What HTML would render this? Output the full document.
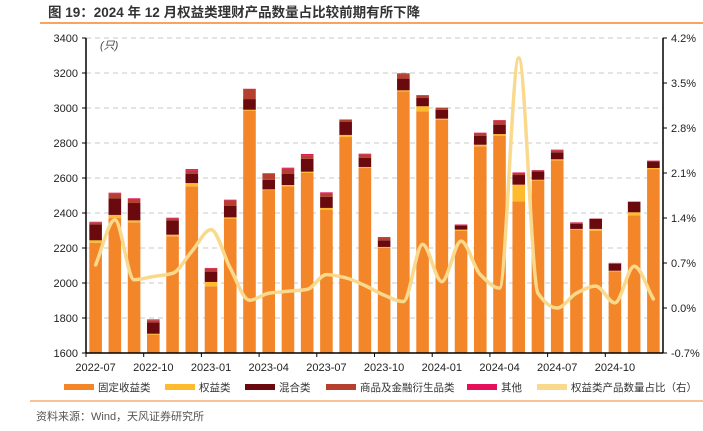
<!DOCTYPE html>
<html><head><meta charset="utf-8"><style>
body{margin:0;background:#fff;width:703px;height:426px;overflow:hidden;font-family:"Liberation Sans","Noto Sans CJK SC",sans-serif}
svg text{font-family:"Liberation Sans","Noto Sans CJK SC",sans-serif}
</style></head><body>
<svg id="c" width="703" height="426" xmlns="http://www.w3.org/2000/svg">
<text x="48" y="17" font-size="13.5" fill="#333" font-weight="bold">图 19：2024 年 12 月权益类理财产品数量占比较前期有所下降</text>
<line x1="40" y1="23" x2="703" y2="23" stroke="#f4862a" stroke-width="1.5"/>
<line x1="30" y1="401" x2="703" y2="401" stroke="#f4862a" stroke-width="1"/>
<text x="36" y="420" font-size="11" fill="#555">资料来源：Wind，天风证券研究所</text>
<text x="100" y="49" font-size="11" fill="#444" font-style="italic">(只)</text>
<g id="grid"></g><g id="bars"></g><g id="line"></g><g id="axes"></g><g id="legend"></g>
</svg>
<script>
const categories=["2022-07","2022-08","2022-09","2022-10","2022-11","2022-12","2023-01","2023-02","2023-03","2023-04","2023-05","2023-06","2023-07","2023-08","2023-09","2023-10","2023-11","2023-12","2024-01","2024-02","2024-03","2024-04","2024-05","2024-06","2024-07","2024-08","2024-09","2024-10","2024-11","2024-12"];
const fixedIncome=[2229,2371,2347,1705,2267,2552,1981,2368,2985,2531,2552,2629,2419,2834,2657,2200,3095,2981,2933,2299,2781,2842,2467,2587,2701,2305,2299,2067,2387,2651];
const equity=[15,18,11,5,9,19,25,7,5,4,8,7,10,12,6,6,6,29,6,6,9,9,95,3,6,4,10,3,17,6];
const mixed=[91,95,99,65,82,52,59,67,61,55,63,73,64,74,53,38,67,47,51,23,52,54,55,48,40,30,57,40,59,38];
const commodity=[12,26,23,12,10,19,17,30,58,33,30,22,21,13,19,15,26,13,10,5,15,23,12,5,11,6,2,4,2,4];
const other=[3,6,4,5,5,9,4,4,1,4,6,6,4,2,4,4,4,4,2,2,2,3,3,2,4,2,1,1,1,1];
const ratio=[0.67,1.37,0.44,0.49,0.54,0.88,1.22,0.62,0.12,0.23,0.26,0.29,0.52,0.47,0.35,0.2,0.10,0.99,0.41,1.04,0.52,0.31,3.89,0.23,0.0,0.23,0.34,0.08,0.65,0.14];
const leftTicks=[1600,1800,2000,2200,2400,2600,2800,3000,3200,3400];
const rightTicks=[-0.7,0,0.7,1.4,2.1,2.8,3.5,4.2];
const xLabelIdx=[0,3,6,9,12,15,18,21,24,27];
const series=[fixedIncome,equity,mixed,commodity,other];
const names=["固定收益类","权益类","混合类","商品及金融衍生品类","其他"];
const colors=["#f4862a","#fdbb2d","#6b0a0e","#b5402f","#e5105a"];
const NS="http://www.w3.org/2000/svg";
const X0=86,X1=663,Y0=353,Y1=38;
const step=(X1-X0)/categories.length;
const xc=i=>X0+step*(i+0.5);
const yl=v=>Y0-(Math.max(v,1600)-1600)/1800*(Y0-Y1);
const yr=v=>Y0-(v+0.7)/4.9*(Y0-Y1);
function mk(p,t,a){const e=document.createElementNS(NS,t);for(const k in a)e.setAttribute(k,a[k]);document.getElementById(p).appendChild(e);return e;}
leftTicks.forEach((t,i)=>{
  if(i>0){const g=mk("grid","line",{x1:X0,x2:X1,y1:yl(t),y2:yl(t),stroke:"#c8c8c8","stroke-dasharray":"5,4"});
  
  }
  const tx=mk("axes","text",{x:78,y:yl(t)+4,"font-size":11,"text-anchor":"end",fill:"#222"});tx.textContent=t;
  
  
});
rightTicks.forEach(t=>{
  const tx=mk("axes","text",{x:671,y:yr(t)+4,"font-size":11,fill:"#222"});tx.textContent=t.toFixed(1)+"%";
  
  
  mk("axes","line",{x1:X1,x2:X1+4,y1:yr(t),y2:yr(t),stroke:"#000"});
});
categories.forEach((c,i)=>{
  let base=0;
  series.forEach((s,k)=>{
    const top=base+s[i];
    const r=mk("bars","rect",{x:xc(i)-6.3,y:yl(top),width:12.6,height:Math.max(0,yl(base)-yl(top)),fill:colors[k]});
    
    
    base=top;
  });
});
// monotone cubic interpolation
const pts=ratio.map((v,i)=>[xc(i),yr(v)]);
const n=pts.length,h=step;
const dl=[];for(let i=0;i<n-1;i++)dl.push((pts[i+1][1]-pts[i][1])/h);
const m=[];for(let i=0;i<n;i++){
  if(i===0)m.push(dl[0]);else if(i===n-1)m.push(dl[n-2]);
  else m.push(dl[i-1]*dl[i]<=0?0:2/(1/dl[i-1]+1/dl[i]));
}
let d="M"+pts[0][0]+","+pts[0][1];
for(let i=0;i<n-1;i++){
  const p1=pts[i],p2=pts[i+1];
  d+=" C"+(p1[0]+h/3)+","+(p1[1]+m[i]*h/3)+" "+(p2[0]-h/3)+","+(p2[1]-m[i+1]*h/3)+" "+p2[0]+","+p2[1];
}
const ln=mk("line","path",{d:d,fill:"none",stroke:"#f9d98c","stroke-width":3.5,"stroke-linecap":"round","stroke-linejoin":"round"});


mk("axes","line",{x1:X0,x2:X0,y1:Y1,y2:Y0,stroke:"#000","stroke-width":1.5});
mk("axes","line",{x1:X1,x2:X1,y1:Y1,y2:Y0,stroke:"#000","stroke-width":1.5});
mk("axes","line",{x1:X0,x2:X1,y1:Y0,y2:Y0,stroke:"#000","stroke-width":1.5});
leftTicks.forEach(t=>mk("axes","line",{x1:X0-4,x2:X0,y1:yl(t),y2:yl(t),stroke:"#000"}));
xLabelIdx.forEach(i=>{
  const tx0=X0+step*i;
  mk("axes","line",{x1:tx0,x2:tx0,y1:Y0,y2:Y0+4,stroke:"#000"});
  const tx=mk("axes","text",{x:xc(i),y:371,"font-size":11,"text-anchor":"middle",fill:"#222"});tx.textContent=categories[i];
  
  
});
const lx=[64,165,245,326,467,537];
const lnames=names.concat(["权益类产品数量占比（右）"]);
const lcolors=colors.concat(["#f9d98c"]);
lx.forEach((x,i)=>{
  mk("legend","rect",{x:x,y:384,width:30,height:6,fill:lcolors[i]});
  const tx=mk("legend","text",{x:x+34,y:391,"font-size":10.5,fill:"#333"});tx.textContent=lnames[i];
  
  
});
</script>
</body></html>
